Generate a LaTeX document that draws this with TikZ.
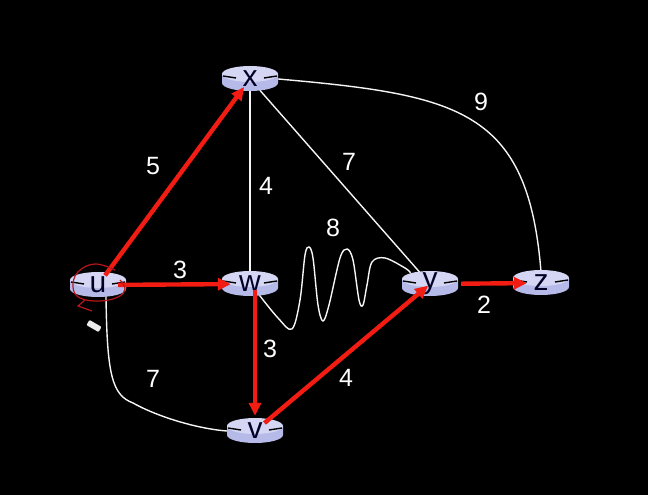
\documentclass[tikz,border=0pt]{standalone}
\usepackage{fontspec}
\setmainfont{Liberation Sans}
\usetikzlibrary{arrows.meta, calc}
\pgfdeclarelayer{bg}
\pgfdeclarelayer{links}
\pgfdeclarelayer{discs}
\pgfsetlayers{bg,links,discs,main}
\definecolor{discTop}{HTML}{D4D6F4}
\definecolor{discSide}{HTML}{B6BAE8}
\definecolor{pathRed}{HTML}{F21C12}
\definecolor{inkRed}{HTML}{B8161C}

\begin{document}
\begin{tikzpicture}[
  x=1pt, y=1pt,
  router/.style={minimum width=56, minimum height=22, inner sep=0,
    font=\fontsize{30}{30}\selectfont, text=black!85!blue},
  link/.style={line width=1.4, white!92!gray},
  best/.style={line width=4.4, pathRed, -{Triangle[length=13,width=12]}},
  lbl/.style={text=white, font=\fontsize{25}{25}\selectfont},
]

\useasboundingbox (0,0) rectangle (648,495);
\begin{pgfonlayer}{bg}
  \fill[black] (0,0) rectangle (648,495);
\end{pgfonlayer}

% routers
\node[router] (u) at (98,210) {u};
\node[router] (x) at (250,416) {x};
\node[router] (w) at (250,211) {w};
\node[router] (y) at (430,211) {y};
\node[router] (z) at (541,212) {z};
\node[router] (v) at (255,64) {v};

\begin{pgfonlayer}{discs}
\foreach \n in {u,x,w,y,z,v} {
  \fill[discSide] ($(\n)+(-28,5)$) -- ($(\n)+(-28,-4)$)
    arc[start angle=180, end angle=360, x radius=28, y radius=8]
    -- ($(\n)+(28,5)$) -- cycle;
  \fill[discTop] ($(\n)+(0,5)$) ellipse[x radius=28, y radius=8];
  \draw[line width=1.4] ($(\n)+(-27,3)$) -- ($(\n)+(-14,1)$);
  \draw[line width=1.4] ($(\n)+(14,1)$) -- ($(\n)+(27,3)$);
}
\end{pgfonlayer}

% plain links
\begin{pgfonlayer}{links}
\draw[link] (x) -- (w);
\draw[link] (x) -- (y);
\draw[link] (x.east) .. controls (460,400) and (528,385) .. (z.north);
\draw[link] ($(u.south)+(8,0)$) .. controls (107,120) and (112,100) .. (133,92)
  .. controls (160,77) and (200,66) .. (v.west);
\draw[link] plot[smooth, tension=0.55] coordinates {(w.-50) (278,177) (292,166)
  (300,195) (305,240) (309,248) (313,237) (318,190) (323,174) (329,190)
  (340,237) (347,246) (353,235) (359,195) (363,190) (367,210) (372,233)
  (385,237) (405,227) (y.150)};
\end{pgfonlayer}

% shortest path tree
\draw[best, shorten <=-2, shorten >=-4] (u) -- (x);
\draw[best, shorten <=-8, shorten >=-9] (u) -- (w);
\draw[best, shorten <=-5, shorten >=4] (w.south -| v.north) -- (v.north);
\draw[best, shorten <=-5, shorten >=-15] (v) -- (y);
\draw[best, shorten <=3, shorten >=-14] (y) -- (z);

% costs
\node[lbl] (c_ux) at (153,329) {5};
\node[lbl] (c_uw) at (180,225) {3};
\node[lbl] (c_xw) at (266,309) {4};
\node[lbl] (c_wy) at (333,267) {8};
\node[lbl] (c_xy) at (349,333) {7};
\node[lbl] (c_xz) at (481,393) {9};
\node[lbl] (c_yz) at (484,190) {2};
\node[lbl] (c_wv) at (270,146) {3};
\node[lbl] (c_vy) at (346,117) {4};
\node[lbl] (c_uv) at (153,116) {7};

% pen marks
\draw[inkRed, line width=1.2] plot[smooth, tension=0.7] coordinates {(115,225)
  (95,231) (78,223) (73,208) (80,197) (100,194) (118,198) (125,206) (120,215)};
\draw[inkRed, line width=1.2] (85,195) -- (78,189) -- (92,184);
\fill[white!85!gray, rounded corners=1, rotate around={-30:(94,169)}]
  (87,166) rectangle (101,172);

\end{tikzpicture}
\end{document}
